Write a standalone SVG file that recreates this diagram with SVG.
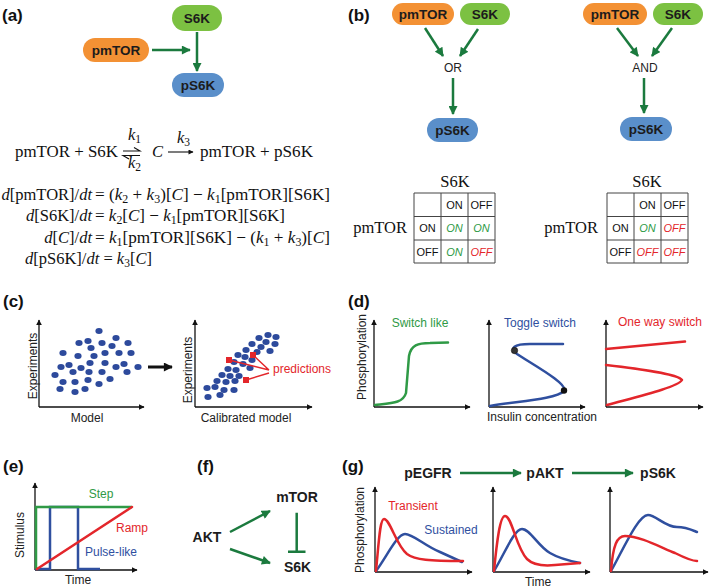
<svg xmlns="http://www.w3.org/2000/svg" width="709" height="588" viewBox="0 0 709 588">
<defs>
<style>
.b{font-family:"Liberation Sans",Arial,sans-serif;font-weight:bold;fill:#1c1c1c;text-anchor:middle}
.nl{font-size:13.5px}
.fl{font-size:14px}
.pl{font-family:"Liberation Sans",Arial,sans-serif;font-weight:bold;font-size:17px;fill:#111}
.m{font-family:"Liberation Serif","Times New Roman",serif;font-size:16.5px;fill:#111}
.i{font-style:italic}
.sb{font-size:11.5px}
.t{font-family:"Liberation Sans",Arial,sans-serif;font-size:12px;fill:#222}
.mid{text-anchor:middle}
.tc{font-family:"Liberation Sans",Arial,sans-serif;font-size:11px;text-anchor:middle;fill:#111}
.on{fill:#2e9a46;font-style:italic}
.off{fill:#e3262b;font-style:italic}
.ga{stroke:#1b7a3e;stroke-width:2.5;fill:none;marker-end:url(#gh)}
.ax{stroke:#111;stroke-width:1.3;fill:none;marker-end:url(#ah)}
.cr{stroke:#e3262b;stroke-width:2.5;fill:none;stroke-linecap:round;stroke-linejoin:round}
.cb{stroke:#2f4f9f;stroke-width:2.5;fill:none;stroke-linecap:round;stroke-linejoin:round}
.cg{stroke:#2f9a46;stroke-width:2.5;fill:none;stroke-linecap:round}
.dot{fill:#2d4a9c}
.grid{stroke:#444;stroke-width:1;fill:none}
.mtor{fill:#f39134}
.s6k{fill:#7cc142}
.ps6k{fill:#5a8fca}
</style>
<marker id="gh" viewBox="0 0 10 10" refX="9" refY="5" markerWidth="10" markerHeight="9" markerUnits="userSpaceOnUse" orient="auto"><path d="M0,0L10,5L0,10z" fill="#1b7a3e"/></marker>
<marker id="ah" viewBox="0 0 10 10" refX="9" refY="5" markerWidth="6" markerHeight="6" markerUnits="userSpaceOnUse" orient="auto"><path d="M0,0L10,5L0,10z" fill="#111"/></marker>
<marker id="bh" viewBox="0 0 10 10" refX="9" refY="5" markerWidth="10" markerHeight="9" markerUnits="userSpaceOnUse" orient="auto"><path d="M0,0L10,5L0,10z" fill="#111"/></marker>
<marker id="kh" viewBox="0 0 10 10" refX="9" refY="5" markerWidth="6" markerHeight="5" markerUnits="userSpaceOnUse" orient="auto"><path d="M0,0L10,5L0,10z" fill="#111"/></marker>
</defs>

<!-- panel labels -->
<text class="pl" x="2" y="21">(a)</text>
<text class="pl" x="348" y="21">(b)</text>
<text class="pl" x="3" y="307">(c)</text>
<text class="pl" x="348" y="307">(d)</text>
<text class="pl" x="3" y="472">(e)</text>
<text class="pl" x="197" y="472">(f)</text>
<text class="pl" x="342" y="472">(g)</text>

<!-- (a) nodes -->
<g id="a-s6k"><rect class="s6k" x="172" y="5" width="50" height="26" rx="13"/><text class="b nl" x="197" y="23">S6K</text></g>
<g id="a-pmtor"><rect class="mtor" x="83" y="38" width="66" height="24" rx="12"/><text class="b nl" x="116" y="55">pmTOR</text></g>
<g id="a-ps6k"><rect class="ps6k" x="172" y="73" width="52" height="24" rx="12"/><text class="b nl" x="198" y="90">pS6K</text></g>

<!-- (a) equations -->
<g id="a-eq">
<text class="m" x="15" y="157" textLength="103" lengthAdjust="spacingAndGlyphs">pmTOR + S6K</text>
<path d="M123,151H140L134,147.5M140,155.5H123L129,159" stroke="#111" stroke-width="1.1" fill="none"/>
<text class="m" x="128" y="140"><tspan class="i">k</tspan><tspan class="sb" dy="3">1</tspan></text>
<text class="m" x="128" y="168"><tspan class="i">k</tspan><tspan class="sb" dy="3">2</tspan></text>
<text class="m i" x="152" y="157">C</text>
<line x1="168" y1="152" x2="193" y2="152" stroke="#111" stroke-width="1.1" marker-end="url(#kh)"/>
<text class="m" x="177" y="143"><tspan class="i">k</tspan><tspan class="sb" dy="3">3</tspan></text>
<text class="m" x="200" y="157" textLength="113" lengthAdjust="spacingAndGlyphs">pmTOR + pS6K</text>

<text class="m" x="92" y="200" text-anchor="end"><tspan class="i">d</tspan>[pmTOR]/<tspan class="i">dt</tspan></text>
<text class="m" x="95" y="200" textLength="235" lengthAdjust="spacingAndGlyphs">= (<tspan class="i">k</tspan><tspan class="sb" dy="3">2</tspan><tspan dy="-3"> + </tspan><tspan class="i">k</tspan><tspan class="sb" dy="3">3</tspan><tspan dy="-3">)[</tspan><tspan class="i">C</tspan>] − <tspan class="i">k</tspan><tspan class="sb" dy="3">1</tspan><tspan dy="-3">[pmTOR][S6K]</tspan></text>

<text class="m" x="92" y="221" text-anchor="end"><tspan class="i">d</tspan>[S6K]/<tspan class="i">dt</tspan></text>
<text class="m" x="95" y="221" textLength="190" lengthAdjust="spacingAndGlyphs">= <tspan class="i">k</tspan><tspan class="sb" dy="3">2</tspan><tspan dy="-3">[</tspan><tspan class="i">C</tspan>] − <tspan class="i">k</tspan><tspan class="sb" dy="3">1</tspan><tspan dy="-3">[pmTOR][S6K]</tspan></text>

<text class="m" x="92" y="243" text-anchor="end"><tspan class="i">d</tspan>[<tspan class="i">C</tspan>]/<tspan class="i">dt</tspan></text>
<text class="m" x="95" y="243" textLength="235" lengthAdjust="spacingAndGlyphs">= <tspan class="i">k</tspan><tspan class="sb" dy="3">1</tspan><tspan dy="-3">[pmTOR][S6K] − (</tspan><tspan class="i">k</tspan><tspan class="sb" dy="3">1</tspan><tspan dy="-3"> + </tspan><tspan class="i">k</tspan><tspan class="sb" dy="3">3</tspan><tspan dy="-3">)[</tspan><tspan class="i">C</tspan>]</text>

<text class="m" x="25" y="264"><tspan class="i">d</tspan>[pS6K]/<tspan class="i">dt</tspan> = <tspan class="i">k</tspan><tspan class="sb" dy="3">3</tspan><tspan dy="-3">[</tspan><tspan class="i">C</tspan>]</text>
</g>

<!-- (b) nodes -->
<g id="b1-pmtor"><rect class="mtor" x="392" y="3" width="62" height="22" rx="11"/><text class="b nl" x="423" y="19">pmTOR</text></g>
<g id="b1-s6k"><rect class="s6k" x="460" y="3" width="50" height="22" rx="11"/><text class="b nl" x="485" y="19">S6K</text></g>
<g id="b1-or"><text class="t mid" x="453" y="72">OR</text></g>
<g id="b1-ps6k"><rect class="ps6k" x="427" y="118" width="51" height="24" rx="12"/><text class="b nl" x="452.5" y="135">pS6K</text></g>

<g id="b2-pmtor"><rect class="mtor" x="583" y="3" width="64" height="22" rx="11"/><text class="b nl" x="615" y="19">pmTOR</text></g>
<g id="b2-s6k"><rect class="s6k" x="653" y="3" width="50" height="22" rx="11"/><text class="b nl" x="678" y="19">S6K</text></g>
<g id="b2-and"><text class="t mid" x="645" y="72">AND</text></g>
<g id="b2-ps6k"><rect class="ps6k" x="620" y="117" width="52" height="24" rx="12"/><text class="b nl" x="646" y="134">pS6K</text></g>

<!-- (b) tables -->
<g id="b1-table">
<text class="m" x="455" y="187" text-anchor="middle">S6K</text>
<text class="m" x="407" y="233" text-anchor="end">pmTOR</text>
<path class="grid" d="M414,193H495M414,216.5H495M414,240H495M414,263H495M414,193V263M441,193V263M468,193V263M495,193V263"/>
<text class="tc" x="454.5" y="209">ON</text><text class="tc" x="481.5" y="209">OFF</text>
<text class="tc" x="427.5" y="232">ON</text><text class="tc on" x="454.5" y="232">ON</text><text class="tc on" x="481.5" y="232">ON</text>
<text class="tc" x="427.5" y="255.5">OFF</text><text class="tc on" x="454.5" y="255.5">ON</text><text class="tc off" x="481.5" y="255.5">OFF</text>
</g>
<g id="b2-table">
<text class="m" x="647" y="187" text-anchor="middle">S6K</text>
<text class="m" x="598" y="233" text-anchor="end">pmTOR</text>
<path class="grid" d="M607,193H688M607,216.5H688M607,240H688M607,263H688M607,193V263M634,193V263M661,193V263M688,193V263"/>
<text class="tc" x="647.5" y="209">ON</text><text class="tc" x="674.5" y="209">OFF</text>
<text class="tc" x="620.5" y="232">ON</text><text class="tc on" x="647.5" y="232">ON</text><text class="tc off" x="674.5" y="232">OFF</text>
<text class="tc" x="620.5" y="255.5">OFF</text><text class="tc off" x="647.5" y="255.5">OFF</text><text class="tc off" x="674.5" y="255.5">OFF</text>
</g>

<!-- (f) nodes -->
<g id="f-akt"><text class="b fl" x="207" y="542">AKT</text></g>
<g id="f-mtor"><text class="b fl" x="297" y="502">mTOR</text></g>
<g id="f-s6k"><text class="b fl" x="297.5" y="572">S6K</text></g>

<!-- (g) nodes -->
<g id="g-pegfr"><text class="b fl" x="428" y="478">pEGFR</text></g>
<g id="g-pakt"><text class="b fl" x="545" y="478">pAKT</text></g>
<g id="g-ps6k"><text class="b fl" x="658" y="478">pS6K</text></g>

<!-- connectors -->
<g id="connectors">
<line class="ga" x1="152" y1="50" x2="190" y2="50"/>
<line class="ga" x1="197" y1="32" x2="197" y2="71"/>
<line class="ga" x1="425" y1="28" x2="443" y2="56"/>
<line class="ga" x1="478" y1="29" x2="460" y2="56"/>
<line class="ga" x1="453" y1="78" x2="453" y2="114"/>
<line class="ga" x1="617" y1="28" x2="638" y2="56"/>
<line class="ga" x1="672" y1="28" x2="652" y2="56"/>
<line class="ga" x1="644" y1="78" x2="644" y2="113"/>
<line class="ga" x1="230" y1="532" x2="270" y2="511"/>
<line class="ga" x1="230" y1="549" x2="270" y2="563"/>
<path d="M296.7,512.7V551.7M288,551.7H305.5" stroke="#1b7a3e" stroke-width="2.5" fill="none"/>
<line class="ga" x1="460" y1="473" x2="521" y2="473"/>
<line class="ga" x1="572" y1="473" x2="633" y2="473"/>
</g>

<!-- (c) -->
<g id="c-plot1">
<path class="ax" d="M39,407V320"/><path class="ax" d="M39,407H144"/>
<text class="t mid" transform="rotate(-90 37 366)" x="37" y="366">Experiments</text>
<text class="t mid" x="87" y="422">Model</text>
<g class="dot">
<ellipse cx="99" cy="331" rx="3.6" ry="3"/><ellipse cx="116" cy="338" rx="3.6" ry="3"/><ellipse cx="79" cy="343" rx="3.6" ry="3"/><ellipse cx="88" cy="341" rx="3.6" ry="3"/><ellipse cx="102" cy="343" rx="3.6" ry="3"/><ellipse cx="112" cy="346" rx="3.6" ry="3"/><ellipse cx="128" cy="343" rx="3.6" ry="3"/>
<ellipse cx="63" cy="353" rx="3.6" ry="3"/><ellipse cx="78" cy="356" rx="3.6" ry="3"/><ellipse cx="91" cy="348" rx="3.6" ry="3"/><ellipse cx="94" cy="356" rx="3.6" ry="3"/><ellipse cx="105" cy="353" rx="3.6" ry="3"/><ellipse cx="119" cy="353" rx="3.6" ry="3"/><ellipse cx="131" cy="353" rx="3.6" ry="3"/>
<ellipse cx="69" cy="365" rx="3.6" ry="3"/><ellipse cx="61" cy="367" rx="3.6" ry="3"/><ellipse cx="81" cy="368" rx="3.6" ry="3"/><ellipse cx="90" cy="363" rx="3.6" ry="3"/><ellipse cx="105" cy="363" rx="3.6" ry="3"/><ellipse cx="116" cy="367" rx="3.6" ry="3"/><ellipse cx="124" cy="364" rx="3.6" ry="3"/><ellipse cx="138" cy="367" rx="3.6" ry="3"/>
<ellipse cx="55" cy="375" rx="3.6" ry="3"/><ellipse cx="73" cy="372" rx="3.6" ry="3"/><ellipse cx="89" cy="372" rx="3.6" ry="3"/><ellipse cx="102" cy="372" rx="3.6" ry="3"/><ellipse cx="127" cy="372" rx="3.6" ry="3"/>
<ellipse cx="63" cy="382" rx="3.6" ry="3"/><ellipse cx="75" cy="382" rx="3.6" ry="3"/><ellipse cx="88" cy="380" rx="3.6" ry="3"/><ellipse cx="99" cy="384" rx="3.6" ry="3"/><ellipse cx="110" cy="379" rx="3.6" ry="3"/>
<ellipse cx="60" cy="389" rx="3.6" ry="3"/><ellipse cx="75" cy="392" rx="3.6" ry="3"/><ellipse cx="85" cy="389" rx="3.6" ry="3"/>
</g>
</g>
<line x1="148" y1="367" x2="172" y2="367" stroke="#111" stroke-width="3" marker-end="url(#bh)"/>
<g id="c-plot2">
<path class="ax" d="M195,407V320"/><path class="ax" d="M195,407H312"/>
<text class="t mid" transform="rotate(-90 192 370)" x="192" y="370">Experiments</text>
<text class="t mid" x="246" y="422">Calibrated model</text>
<g class="dot">
<ellipse cx="268" cy="335" rx="3.6" ry="3"/><ellipse cx="276" cy="337" rx="3.6" ry="3"/><ellipse cx="259" cy="338" rx="3.6" ry="3"/><ellipse cx="266" cy="342" rx="3.6" ry="3"/><ellipse cx="275" cy="344" rx="3.6" ry="3"/><ellipse cx="252" cy="344" rx="3.6" ry="3"/><ellipse cx="261" cy="347" rx="3.6" ry="3"/><ellipse cx="270" cy="351" rx="3.6" ry="3"/><ellipse cx="246" cy="350" rx="3.6" ry="3"/><ellipse cx="257" cy="352" rx="3.6" ry="3"/>
<ellipse cx="238" cy="355" rx="3.6" ry="3"/><ellipse cx="245" cy="357" rx="3.6" ry="3"/><ellipse cx="252" cy="360" rx="3.6" ry="3"/><ellipse cx="234" cy="362" rx="3.6" ry="3"/><ellipse cx="243" cy="364" rx="3.6" ry="3"/><ellipse cx="228" cy="369" rx="3.6" ry="3"/><ellipse cx="236" cy="370" rx="3.6" ry="3"/><ellipse cx="250" cy="368" rx="3.6" ry="3"/>
<ellipse cx="222" cy="375" rx="3.6" ry="3"/><ellipse cx="230" cy="376" rx="3.6" ry="3"/><ellipse cx="239" cy="376" rx="3.6" ry="3"/><ellipse cx="217" cy="381" rx="3.6" ry="3"/><ellipse cx="226" cy="382" rx="3.6" ry="3"/><ellipse cx="235" cy="381" rx="3.6" ry="3"/>
<ellipse cx="207" cy="388" rx="3.6" ry="3"/><ellipse cx="215" cy="387" rx="3.6" ry="3"/><ellipse cx="224" cy="390" rx="3.6" ry="3"/><ellipse cx="234" cy="390" rx="3.6" ry="3"/><ellipse cx="208" cy="397" rx="3.6" ry="3"/><ellipse cx="220" cy="395" rx="3.6" ry="3"/>
</g>
<path d="M229,360L269,370M253,355L269,370M246,380L269,373" stroke="#e3262b" stroke-width="1.4" fill="none"/>
<rect x="226" y="357" width="6" height="6" fill="#e3262b"/>
<rect x="250" y="352" width="6" height="6" fill="#e3262b"/>
<rect x="243" y="377" width="6" height="6" fill="#e3262b"/>
<text class="t" x="273" y="373" fill="#e3262b" style="fill:#e3262b">predictions</text>
</g>

<!-- (d) -->
<g id="d-plots">
<text class="t mid" transform="rotate(-90 366 357)" x="366" y="357">Phosphorylation</text>
<path class="ax" d="M374,407V320"/><path class="ax" d="M374,407H470"/>
<text class="t mid" x="420" y="327" style="fill:#2f9a46">Switch like</text>
<path class="cg" d="M375,405C393,403 403,403 406,393L409,356C411,345 418,343 430,343L448,342.5"/>
<path class="ax" d="M489,407V320"/><path class="ax" d="M489,407H585"/>
<text class="t mid" x="540" y="327" style="fill:#2f4f9f">Toggle switch</text>
<text class="t mid" x="542" y="421">Insulin concentration</text>
<path class="cb" d="M490,406C520,401 556,399 564,391C569,384 530,363 517,354C509,348 514,344 530,344L563,344"/>
<circle cx="514.5" cy="350.5" r="3.2" fill="#333" stroke="#111" stroke-width="0.6"/>
<circle cx="564" cy="390.5" r="3.2" fill="#111"/>
<path class="ax" d="M606,407V320"/><path class="ax" d="M606,407H703"/>
<text class="t mid" x="660" y="326" style="fill:#e3262b">One way switch</text>
<path class="cr" d="M606,349L685,341.5"/>
<path class="cr" d="M606,365C640,369 678,374 682,380C678,387 640,396 607,405"/>
</g>

<!-- (e) -->
<g id="e-plot">
<path class="ax" d="M35,570V483"/><path class="ax" d="M35,570H137"/>
<text class="t mid" transform="rotate(-90 24 535)" x="24" y="535">Stimulus</text>
<text class="t mid" x="78" y="584">Time</text>
<path class="cb" style="stroke-linejoin:miter;stroke-linecap:butt" d="M35,569H50V507H78V569H100"/>
<path class="cg" style="stroke-linecap:butt" d="M36,569V507H132"/>
<path class="cr" d="M37,569L132,507"/>
<text class="t mid" x="101" y="498" style="fill:#2f9a46">Step</text>
<text class="t mid" x="132" y="532" style="fill:#e3262b">Ramp</text>
<text class="t" x="85" y="556" style="fill:#2f4f9f">Pulse-like</text>
</g>

<!-- (g) -->
<g id="g-plots">
<text class="t mid" transform="rotate(-90 364 530)" x="364" y="530">Phosphorylation</text>
<path class="ax" d="M375,572V487"/><path class="ax" d="M375,572H472"/>
<text class="t mid" x="413" y="510" style="fill:#e3262b">Transient</text>
<text class="t mid" x="451" y="534" style="fill:#2f4f9f">Sustained</text>
<path class="cb" d="M376,571C386,558 397,534 405,534C413,534 425,546 440,552L462,562"/>
<path class="cr" d="M376,571C379,540 380,519 384,519C390,519 396,545 407,554C415,560 430,561 463,561"/>
<path class="ax" d="M493,572V487"/><path class="ax" d="M493,572H590"/>
<text class="t mid" x="538" y="586">Time</text>
<path class="cb" d="M494,571C504,555 514,529 522,529C530,529 538,546 550,553C560,559 570,561 580,563"/>
<path class="cr" d="M494,571C497,540 500,516 505,516C512,516 516,548 527,559C533,565 545,566 555,565L580,563"/>
<path class="ax" d="M610,572V487"/><path class="ax" d="M610,572H708"/>
<path class="cb" d="M611,571C623,550 638,515 648,515C656,515 665,527 677,527C686,527 692,530 697,532"/>
<path class="cr" d="M611,571C613,545 617,536 625,536C640,536 660,547 675,553C685,558 692,561 697,561"/>
</g>
</svg>
